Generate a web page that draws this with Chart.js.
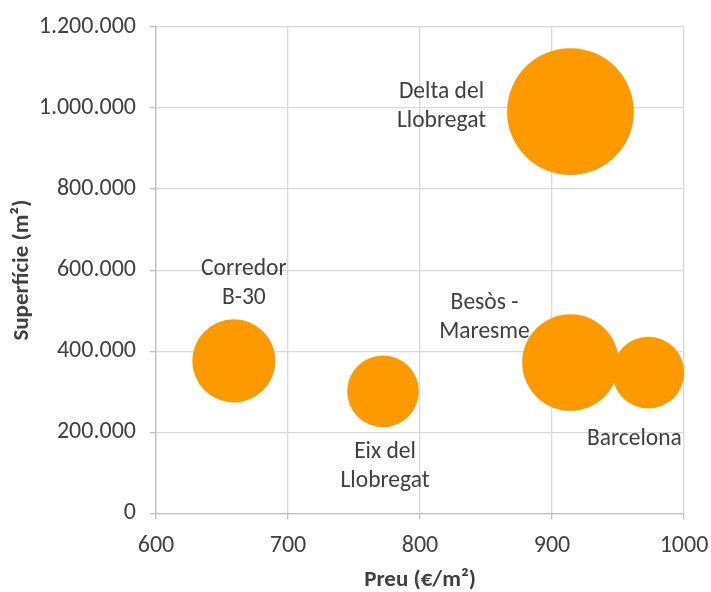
<!DOCTYPE html>
<html>
<head>
<meta charset="utf-8">
<script src="https://cdn.jsdelivr.net/npm/chart.js@4/dist/chart.umd.min.js"></script>
<style>
  html, body { margin: 0; padding: 0; background: #ffffff; }
  #wrap { width: 711px; height: 592px; position: relative; }
</style>
</head>
<body>
<div id="wrap"><canvas id="c" width="711" height="592"></canvas></div>
<script>
// Zones d'activitat: preu del sòl, superfície i mida relativa de cada bombolla
const zones = ['Corredor B-30', 'Eix del Llobregat', 'Besòs - Maresme', 'Barcelona', 'Delta del Llobregat'];
const preu = [659, 772, 914, 973, 914];                          // €/m²
const superficie = [376000, 301000, 372000, 347000, 991000];     // m²
const mida = [43, 32, 58, 32, 100];                              // mida de la bombolla
const xTicks = [600, 700, 800, 900, 1000];
const yTicks = [0, 200000, 400000, 600000, 800000, 1000000, 1200000];

// Etiquetes en dues línies i la seva col·locació respecte de la bombolla
const labelLines = {
  'Corredor B-30': ['Corredor', 'B-30'],
  'Eix del Llobregat': ['Eix del', 'Llobregat'],
  'Besòs - Maresme': ['Besòs -', 'Maresme'],
  'Barcelona': ['Barcelona'],
  'Delta del Llobregat': ['Delta del', 'Llobregat']
};
const labelPlace = {
  'Corredor B-30': { dx: 10, dy: -77 },
  'Eix del Llobregat': { dx: 2, dy: 75 },
  'Besòs - Maresme': { dx: -86, dy: -45 },
  'Barcelona': { dx: -14, dy: 66 },
  'Delta del Llobregat': { dx: -129, dy: -5 }
};

const FONT = 'Carlito, Lato, sans-serif';
const TEXT = '#404040';
const MAX_R = 63.4;
const maxMida = Math.max(...mida);

function fmtThousands(v) {
  return String(v).replace(/\B(?=(\d{3})+(?!\d))/g, '.');
}

const points = zones.map((z, i) => ({ x: preu[i], y: superficie[i], r: MAX_R * Math.sqrt(mida[i] / maxMida) }));

const bubbleLabels = {
  id: 'bubbleLabels',
  afterDatasetsDraw(chart) {
    const ctx = chart.ctx;
    const meta = chart.getDatasetMeta(0);
    ctx.save();
    ctx.font = '23.5px ' + FONT;
    ctx.fillStyle = TEXT;
    ctx.textAlign = 'center';
    ctx.textBaseline = 'middle';
    const lh = 29;
    meta.data.forEach((el, i) => {
      const name = zones[i];
      const lines = labelLines[name];
      const p = labelPlace[name];
      const cx = el.x + p.dx;
      const cy = el.y + p.dy;
      const y0 = cy - (lines.length - 1) * lh / 2;
      lines.forEach((t, k) => ctx.fillText(t, cx, y0 + k * lh));
    });
    ctx.restore();
  }
};

new Chart(document.getElementById('c'), {
  type: 'bubble',
  data: {
    datasets: [{
      label: 'Zones',
      data: points,
      backgroundColor: '#ff9900',
      borderColor: '#ff9900',
      borderWidth: 0,
      hoverRadius: 0,
      clip: false
    }]
  },
  options: {
    responsive: false,
    animation: false,
    events: [],
    layout: { autoPadding: false, padding: { top: 27, right: 27, bottom: 0, left: 0 } },
    plugins: { legend: { display: false }, tooltip: { enabled: false } },
    scales: {
      x: {
        type: 'linear',
        min: 600, max: 1000,
        afterBuildTicks: (s) => { s.ticks = xTicks.map(v => ({ value: v })); },
        afterFit: (s) => { s.height = 78.7; s.paddingLeft = 0; s.paddingRight = 0; },
        grid: { color: '#d9d9d9', lineWidth: 1.3, tickLength: 6, tickColor: '#bfbfbf', drawTicks: true },
        border: { color: '#bfbfbf', width: 1.3 },
        ticks: { color: TEXT, font: { family: FONT, size: 24 }, padding: 12, maxRotation: 0, callback: (v) => String(v) },
        title: { display: true, text: 'Preu (€/m²)', color: TEXT, font: { family: FONT, size: 23, weight: 'bold' }, padding: { top: 0, bottom: -2 } }
      },
      y: {
        type: 'linear',
        min: 0, max: 1200000,
        afterBuildTicks: (s) => { s.ticks = yTicks.map(v => ({ value: v })); },
        afterFit: (s) => { s.width = 156; s.paddingTop = 0; s.paddingBottom = 0; },
        grid: { color: '#d9d9d9', lineWidth: 1.3, tickLength: 6, tickColor: '#bfbfbf', drawTicks: true },
        border: { color: '#bfbfbf', width: 1.3 },
        ticks: { color: TEXT, font: { family: FONT, size: 24 }, padding: 14, callback: (v) => fmtThousands(v) },
        title: { display: true, text: 'Superfície (m²)', color: TEXT, font: { family: FONT, size: 23, weight: 'bold' }, padding: { top: 8, bottom: 0 } }
      }
    }
  },
  plugins: [bubbleLabels]
});
</script>
</body>
</html>
